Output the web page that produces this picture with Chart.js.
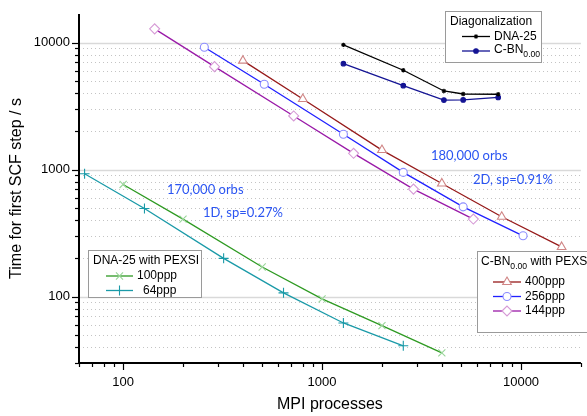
<!DOCTYPE html>
<html>
<head>
<meta charset="utf-8">
<script src="https://cdn.jsdelivr.net/npm/chart.js@4/dist/chart.umd.min.js"></script>
<style>
  html, body { margin: 0; padding: 0; background: #fff; }
  canvas { display: block; }
</style>
</head>
<body>
<canvas id="chart" width="587" height="416"></canvas>
<script>
// axis ranges
const xMin = 60, xMax = 20000;
const yMin = 30, yMax = 16800;

// DNA-25 with PEXSI
const procs100 = [100, 200, 500, 1000, 2000, 4000];
const time100 = [764, 407, 171, 96, 59, 36];
const procs64 = [64, 128, 320, 640, 1280, 2560];
const time64 = [927, 494, 200, 107, 62, 41];

// C-BN0.00 with PEXSI
const procs400 = [400, 800, 2000, 4000, 8000, 16000];
const time400 = [7210, 3595, 1425, 778, 425, 246];
const procs256 = [256, 512, 1280, 2560, 5120, 10240];
const time256 = [9200, 4700, 1897, 951, 509, 301];
const procs144 = [144, 288, 720, 1440, 2880, 5760];
const time144 = [12830, 6470, 2645, 1343, 702, 408];

// Diagonalization
const procsDiag = [1280, 2560, 4096, 5120, 7680];
const timeDiagDNA = [9590, 6060, 4160, 3940, 3920];
const timeDiagCBN = [6820, 4580, 3530, 3540, 3700];

const FONT = 'Arial, "Liberation Sans", sans-serif';
const pts = (xs, ys) => xs.map((v, i) => ({ x: v, y: ys[i] }));
const isDecade = v => Math.abs(Math.log10(v) - Math.round(Math.log10(v))) < 1e-9;

function logTicks(lo, hi) {
  const out = [];
  for (let e = Math.floor(Math.log10(lo)); e <= Math.ceil(Math.log10(hi)); e++) {
    for (let m = 1; m < 10; m++) {
      const v = m * Math.pow(10, e);
      if (v >= lo * 0.999 && v <= hi * 1.001) out.push({ value: v });
    }
  }
  return out;
}

function series(label, xs, ys, line, mark, style, r, fill) {
  return {
    label, data: pts(xs, ys),
    borderColor: line, borderWidth: 1.3,
    pointStyle: style, pointRadius: r,
    pointBorderColor: mark, pointBackgroundColor: fill || '#fff',
    pointBorderWidth: 1.1, tension: 0
  };
}

const datasets = [
  series('400ppp', procs400, time400, '#961a1a', '#d08585', 'triangle', 5),
  series('256ppp', procs256, time256, '#2020ff', '#8c8cff', 'circle', 4),
  series('144ppp', procs144, time144, '#9a1aa8', '#d69ad6', 'rectRot', 5),
  series('100ppp', procs100, time100, '#2e9a22', '#9ad69a', 'crossRot', 5),
  series('64ppp', procs64, time64, '#1a9aa8', '#1a9aa8', 'cross', 5),
  series('DNA-25', procsDiag, timeDiagDNA, '#000', '#000', 'star', 2.2, '#000'),
  series('C-BN', procsDiag, timeDiagCBN, '#141494', '#141494', 'circle', 2.3, '#141494')
];

function marker(ctx, ds, x, y) {
  ctx.save();
  ctx.strokeStyle = ds.pointBorderColor;
  ctx.fillStyle = ds.pointBackgroundColor;
  ctx.lineWidth = ds.pointBorderWidth;
  Chart.helpers.drawPoint(ctx, { pointStyle: ds.pointStyle, radius: ds.pointRadius, borderWidth: ds.pointBorderWidth, rotation: 0 }, x, y);
  ctx.restore();
}

function sample(ctx, ds, x1, x2, y) {
  ctx.save();
  ctx.strokeStyle = ds.borderColor;
  ctx.lineWidth = ds.borderWidth;
  ctx.beginPath(); ctx.moveTo(x1, y); ctx.lineTo(x2, y); ctx.stroke();
  ctx.restore();
  marker(ctx, ds, (x1 + x2) / 2, y);
}

function box(ctx, x, y, w, h) {
  ctx.save();
  ctx.fillStyle = '#fff';
  ctx.fillRect(x, y, w, h);
  ctx.strokeStyle = '#9a9a9a';
  ctx.lineWidth = 1;
  ctx.strokeRect(x + 0.5, y + 0.5, w, h);
  ctx.restore();
}

function text(ctx, s, x, y, size, color, family) {
  ctx.font = size + 'px ' + (family || FONT);
  ctx.fillStyle = color || '#000';
  ctx.textBaseline = 'middle';
  ctx.textAlign = 'left';
  ctx.fillText(s, x, y);
  return ctx.measureText(s).width;
}

// "C-BN" with subscript 0.00
function cbn(ctx, x, y, size) {
  let w = text(ctx, 'C-BN', x, y, size);
  w += text(ctx, '0.00', x + w, y + 5, size * 0.72);
  return w;
}

const framePlugin = {
  id: 'frame',
  beforeDatasetsDraw(chart) {
    const { ctx, chartArea: a, scales: { y } } = chart;
    ctx.save();
    y.ticks.forEach(t => {
      const py = Math.round(y.getPixelForValue(t.value)) + 0.5;
      ctx.beginPath();
      if (isDecade(t.value)) {
        ctx.setLineDash([]);
        ctx.strokeStyle = '#d9d9d9';
        ctx.lineWidth = 1.5;
      } else {
        ctx.setLineDash([1, 3]);
        ctx.strokeStyle = '#c4c4c4';
        ctx.lineWidth = 1;
      }
      ctx.moveTo(a.left, py); ctx.lineTo(a.right, py); ctx.stroke();
    });
    ctx.restore();
  },
  afterDatasetsDraw(chart) {
    const { ctx, chartArea: a, scales: { x, y } } = chart;
    ctx.save();
    ctx.strokeStyle = '#000';
    ctx.lineWidth = 1.2;
    x.ticks.forEach(t => {
      const px = Math.round(x.getPixelForValue(t.value)) + 0.5;
      const len = isDecade(t.value) ? 7 : 4;
      ctx.beginPath(); ctx.moveTo(px, a.bottom); ctx.lineTo(px, a.bottom + len); ctx.stroke();
    });
    y.ticks.forEach(t => {
      const py = Math.round(y.getPixelForValue(t.value)) + 0.5;
      const len = isDecade(t.value) ? 7 : 4;
      ctx.beginPath(); ctx.moveTo(a.left, py); ctx.lineTo(a.left - len, py); ctx.stroke();
    });
    ctx.lineWidth = 2;
    ctx.beginPath();
    ctx.moveTo(a.left, a.top); ctx.lineTo(a.left, a.bottom + 1);
    ctx.moveTo(a.left - 1, a.bottom); ctx.lineTo(a.right, a.bottom);
    ctx.stroke();
    ctx.restore();
  },
  afterDraw(chart) {
    const ctx = chart.ctx;
    const ds = chart.data.datasets;
    ctx.save();

    // notes
    const NOTE = 'Lato, "Open Sans", sans-serif';
    text(ctx, '170,000 orbs', 167, 190, 13, '#2b55f2', NOTE);
    text(ctx, '1D, sp=0.27%', 203, 212.5, 13, '#2b55f2', NOTE);
    text(ctx, '180,000 orbs', 431, 156, 13, '#2b55f2', NOTE);
    text(ctx, '2D, sp=0.91%', 473, 180, 13, '#2b55f2', NOTE);

    // Diagonalization legend
    box(ctx, 445, 11, 96, 51);
    text(ctx, 'Diagonalization', 450, 21.5, 12);
    sample(ctx, ds[5], 462, 490, 36.5);
    text(ctx, 'DNA-25', 494, 36.5, 12);
    sample(ctx, ds[6], 462, 490, 51);
    cbn(ctx, 494, 50, 12);

    // DNA-25 with PEXSI legend
    box(ctx, 88, 250, 113, 47);
    text(ctx, 'DNA-25 with PEXSI', 93, 261, 12);
    sample(ctx, ds[3], 106, 133, 276);
    text(ctx, '100ppp', 137, 276, 12);
    sample(ctx, ds[4], 106, 133, 290.5);
    text(ctx, '64ppp', 143, 290.5, 12);

    // C-BN0.00 with PEXSI legend
    box(ctx, 477, 251, 130, 81);
    const w = cbn(ctx, 481, 262, 12);
    text(ctx, ' with PEXSI', 481 + w, 262, 12);
    sample(ctx, ds[0], 493, 521, 282);
    text(ctx, '400ppp', 525, 282, 12);
    sample(ctx, ds[1], 493, 521, 296.5);
    text(ctx, '256ppp', 525, 296.5, 12);
    sample(ctx, ds[2], 493, 521, 311);
    text(ctx, '144ppp', 525, 311, 12);

    ctx.restore();
  }
};

new Chart(document.getElementById('chart'), {
  type: 'line',
  data: { datasets },
  options: {
    responsive: false,
    animation: false,
    devicePixelRatio: 1,
    layout: { padding: { top: 14, right: 1, left: 0, bottom: 0 } },
    plugins: { legend: { display: false }, tooltip: { enabled: false } },
    scales: {
      x: {
        type: 'logarithmic', min: xMin, max: xMax,
        afterBuildTicks: s => { s.ticks = logTicks(xMin, xMax); },
        afterFit: s => { s.height = 53; },
        grid: { display: false }, border: { display: false },
        ticks: {
          autoSkip: false, maxRotation: 0, padding: 4, color: '#000',
          font: { family: FONT, size: 13 },
          callback: v => isDecade(v) ? String(v) : ''
        },
        title: { display: true, text: 'MPI processes', color: '#000', font: { family: FONT, size: 16 }, padding: { top: 0, bottom: 2 } }
      },
      y: {
        type: 'logarithmic', min: yMin, max: yMax,
        afterBuildTicks: s => { s.ticks = logTicks(yMin, yMax); },
        afterFit: s => { s.width = 79; },
        grid: { display: false }, border: { display: false },
        ticks: {
          autoSkip: false, padding: 1, color: '#000',
          font: { family: FONT, size: 13 },
          callback: v => isDecade(v) ? String(v) : ''
        },
        title: { display: true, text: 'Time for first SCF step / s', color: '#000', font: { family: FONT, size: 16 }, padding: { top: 7, bottom: 0 } }
      }
    }
  },
  plugins: [framePlugin]
});
</script>
</body>
</html>
